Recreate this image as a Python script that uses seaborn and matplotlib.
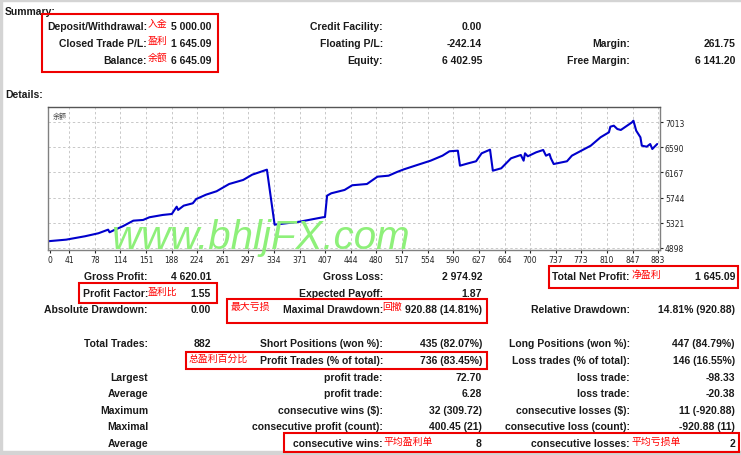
import matplotlib
matplotlib.use("Agg")
import matplotlib.pyplot as plt
import seaborn as sns
import pandas as pd
from matplotlib.patches import Rectangle

# ---------------- data ----------------
trade_no = [0, 37, 64, 83, 97, 99, 106, 118, 133, 147, 156, 175, 188, 195, 197, 205, 218, 223,
            237, 252, 270, 290, 303, 324, 335, 371, 404, 407, 410, 416, 435, 446, 467, 482,
            498, 510, 520, 539, 558, 575, 585, 597, 600, 612, 623, 631, 643, 647, 659, 673,
            687, 691, 693, 697, 709, 719, 723, 728, 730, 734, 753, 760, 787, 801, 813, 815,
            820, 825, 830, 846, 848, 852, 858, 860, 867, 872, 875, 882]
balance = [5000, 5038, 5095, 5145, 5206, 5162, 5201, 5263, 5357, 5369, 5414, 5453, 5469, 5592,
           5537, 5609, 5649, 5721, 5794, 5851, 5973, 6041, 6130, 6214, 5290, 5340, 5414, 5417,
           5777, 5817, 5873, 5952, 5973, 6096, 6113, 6175, 6220, 6293, 6365, 6449, 6523, 6533,
           6281, 6321, 6355, 6489, 6550, 6197, 6237, 6405, 6461, 6365, 6489, 6439, 6506, 6545,
           6449, 6477, 6405, 6309, 6355, 6449, 6617, 6758, 6842, 6936, 6953, 6897, 6881, 7010,
           7037, 6869, 6758, 6617, 6600, 6645, 6561, 6645]

x_ticks = [0, 41, 78, 114, 151, 188, 224, 261, 297, 334, 371, 407, 444, 480, 517, 554, 590,
           627, 664, 700, 737, 773, 810, 847, 883]
y_ticks = [4898, 5321, 5744, 6167, 6590, 7013]

summary_left_labels = ["Deposit/Withdrawal:", "Closed Trade P/L:", "Balance:"]
summary_left_notes = ["入金", "盈利", "余额"]
summary_left_values = ["5 000.00", "1 645.09", "6 645.09"]
summary_mid_labels = ["Credit Facility:", "Floating P/L:", "Equity:"]
summary_mid_values = ["0.00", "-242.14", "6 402.95"]
summary_right_labels = ["", "Margin:", "Free Margin:"]
summary_right_values = ["", "261.75", "6 141.20"]

colA_labels = ["Gross Profit:", "Profit Factor:", "Absolute Drawdown:", "Total Trades:", "",
               "Largest", "Average", "Maximum", "Maximal", "Average"]
colA_values = ["4 620.01", "1.55", "0.00", "882", "", "", "", "", "", ""]
colB_labels = ["Gross Loss:", "Expected Payoff:", "Maximal Drawdown:", "Short Positions (won %):",
               "Profit Trades (% of total):", "profit trade:", "profit trade:",
               "consecutive wins ($):", "consecutive profit (count):", "consecutive wins:"]
colB_values = ["2 974.92", "1.87", "920.88 (14.81%)", "435 (82.07%)", "736 (83.45%)", "72.70",
               "6.28", "32 (309.72)", "400.45 (21)", "8"]
colC_labels = ["Total Net Profit:", "", "Relative Drawdown:", "Long Positions (won %):",
               "Loss trades (% of total):", "loss trade:", "loss trade:",
               "consecutive losses ($):", "consecutive loss (count):", "consecutive losses:"]
colC_values = ["1 645.09", "", "14.81% (920.88)", "447 (84.79%)", "146 (16.55%)", "-98.33",
               "-20.38", "11 (-920.88)", "-920.88 (11)", "2"]

df = pd.DataFrame({"trade": trade_no, "balance": balance})

# ---------------- figure ----------------
W, H = 741, 456
sns.set_style("white")
plt.rcParams["font.family"] = ["Liberation Sans", "Noto Sans CJK SC", "DejaVu Sans"]
fig = plt.figure(figsize=(W / 100, H / 100), dpi=100)
fig.patch.set_facecolor("white")

CJK = ["Noto Sans CJK SC", "DejaVu Sans"]
TXT = "#1a1a1a"
FS = 7.5


def px(x, y):
    return x / W, 1 - y / H


def t(x, y, s, ha="right", color=TXT, fs=FS, weight="bold", family=None, va="center"):
    kw = {}
    if family is not None:
        kw["family"] = family
    fig.text(*px(x, y), s, ha=ha, va=va, color=color, fontsize=fs, fontweight=weight, **kw)


def note(x, y, s):
    t(x, y, s, ha="left", color="#ff0000", fs=7.1, weight="normal", family=CJK)


def box(x0, y0, x1, y1):
    fig.add_artist(Rectangle(px(x0, y1), (x1 - x0) / W, (y1 - y0) / H, transform=fig.transFigure,
                             fill=False, edgecolor="#ee0000", linewidth=1.5, zorder=5))


# outer frame
fig.add_artist(Rectangle((0, 0), 1, 4 / H, transform=fig.transFigure, color="#d4d4d4", zorder=0))
fig.add_artist(Rectangle((0, 0), 2 / W, 1, transform=fig.transFigure, color="#d4d4d4", zorder=0))
fig.add_artist(Rectangle((0, 1 - 2 / H), 1, 2 / H, transform=fig.transFigure, color="#d4d4d4", zorder=0))

# summary
t(5, 12, "Summary:", ha="left")
rows_s = [27, 44, 61]
for i, y in enumerate(rows_s):
    t(147, y, summary_left_labels[i])
    note(148, y - 3, summary_left_notes[i])
    t(211, y, summary_left_values[i])
    t(383, y, summary_mid_labels[i])
    t(482, y, summary_mid_values[i])
    if summary_right_labels[i]:
        t(630, y, summary_right_labels[i])
        t(735, y, summary_right_values[i])
box(42, 15, 218, 73)
t(5, 95, "Details:", ha="left")

# chart
XMIN, XMAX = 11, 886
ax = fig.add_axes([48 / W, 1 - 251 / H, (660 - 48) / W, (251 - 108) / H])
sns.lineplot(data=df, x="trade", y="balance", ax=ax, color="#0000cc", linewidth=1.5)
ax.set_xlim(XMIN, XMAX)
ax.set_ylim(4864, 7267)
tick_pos = [XMIN + 3] + x_ticks[1:]
ax.set_xticks(tick_pos)
ax.set_xticklabels([str(v) for v in x_ticks])
ax.set_yticks(y_ticks)
ax.set_yticklabels([str(v) for v in y_ticks])
ax.yaxis.tick_right()
ax.set_xlabel("")
ax.set_ylabel("")
ax.tick_params(axis="x", labelsize=5.5, length=2, pad=1.5, colors="#222222", direction="out",
               bottom=True)
ax.tick_params(axis="y", labelsize=5.5, length=2, pad=1.5, colors="#222222", direction="out",
               right=True, left=False)
for lab in ax.get_xticklabels() + ax.get_yticklabels():
    lab.set_family("DejaVu Sans")
ax.grid(True, color="#c8c8c8", linestyle=(0, (2.5, 2.5)), linewidth=0.7)
ax.get_xgridlines()[0].set_visible(False)
for name, sp in ax.spines.items():
    sp.set_color("#808080")
    sp.set_linewidth(1.0)
ax.spines["top"].set_color("#555555")
ax.text(0.008, 0.965, "余额", transform=ax.transAxes, ha="left", va="top", fontsize=5,
        color="#444444", family=CJK)

# watermark
fig.text(*px(112, 249), "www.bhljFX.com", ha="left", va="baseline", fontsize=29, style="italic",
         color="#8ef07a", family="Liberation Sans", zorder=10)

# lower table
rows_t = [277, 294, 310, 344, 361, 378, 394, 411, 427, 444]
for i, y in enumerate(rows_t):
    if colA_labels[i]:
        t(148, y, colA_labels[i])
    if colA_values[i]:
        t(211, y, colA_values[i])
    t(383, y, colB_labels[i])
    t(482, y, colB_values[i])
    t(630, y, colC_labels[i])
    t(735, y, colC_values[i])

note(148, 292, "盈利比")
note(632, 275, "净盈利")
note(231, 307, "最大亏损")
note(382, 307, "回撤")
note(189, 359, "总盈利百分比")
note(384, 442, "平均盈利单")
note(631, 442, "平均亏损单")

box(549, 267, 738, 289)
box(79, 284, 217, 304)
box(227, 300, 487, 324)
box(186, 353, 487, 370)
box(284, 434, 739, 453)

fig.savefig("out.png", dpi=100, facecolor="white")
